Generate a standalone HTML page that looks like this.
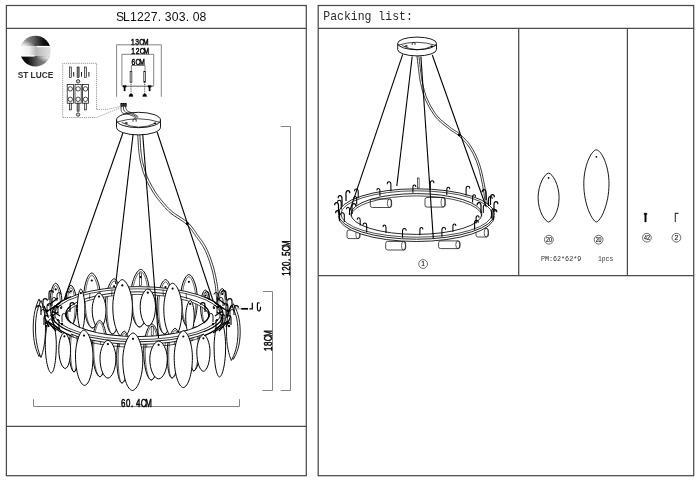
<!DOCTYPE html>
<html lang="en"><head><meta charset="utf-8"><title>SL1227.303.08</title>
<style>
html,body{margin:0;padding:0;background:#fff;}
body{width:700px;height:481px;overflow:hidden;}
svg{display:block;will-change:transform;filter:grayscale(1);}
</style></head><body>
<svg width="700" height="481" viewBox="0 0 700 481">
<rect x="0" y="0" width="700" height="481" fill="#fff"/>
<g>
<rect x="6.4" y="5.5" width="299.9" height="470.2" stroke="#4a4a4a" stroke-width="1.25" fill="none" />
<line x1="6.4" y1="28.4" x2="306.3" y2="28.4" stroke="#4a4a4a" stroke-width="1.25" />
<line x1="6.4" y1="426.4" x2="306.3" y2="426.4" stroke="#4a4a4a" stroke-width="1.25" />
<rect x="318.2" y="5.5" width="375.5" height="470.2" stroke="#4a4a4a" stroke-width="1.25" fill="none" />
<line x1="318.2" y1="28.4" x2="693.7" y2="28.4" stroke="#4a4a4a" stroke-width="1.25" />
<line x1="318.2" y1="275.5" x2="693.7" y2="275.5" stroke="#4a4a4a" stroke-width="1.25" />
<line x1="518.7" y1="28.4" x2="518.7" y2="275.5" stroke="#4a4a4a" stroke-width="1.25" />
<line x1="627.4" y1="28.4" x2="627.4" y2="275.5" stroke="#4a4a4a" stroke-width="1.25" />
<g transform="scale(0.94,1)"><text x="123.40 130.82 138.23 145.65 153.06 160.48 167.89 175.31 182.72 190.14 197.55 204.97 212.38" y="21.5" font-family="&quot;Liberation Sans&quot;, sans-serif" font-size="13" fill="#111" id="ttl">SL1227.303.08</text></g>
<text x="323.3" y="20.0" font-family="&quot;Liberation Mono&quot;, monospace" font-size="13.4" font-weight="normal" text-anchor="start" fill="#2a2a2a" textLength="89.5" lengthAdjust="spacingAndGlyphs" id="pk">Packing list:</text>
<defs>
<linearGradient id="g1" x1="0" x2="1" y1="0" y2="0"><stop offset="0" stop-color="#a0a0a0"/><stop offset="0.4" stop-color="#6a6a6a"/><stop offset="0.75" stop-color="#111"/><stop offset="1" stop-color="#000"/></linearGradient>
<linearGradient id="g2" x1="0" x2="1" y1="0" y2="0"><stop offset="0" stop-color="#000"/><stop offset="0.25" stop-color="#111"/><stop offset="0.6" stop-color="#6a6a6a"/><stop offset="1" stop-color="#a0a0a0"/></linearGradient>
<linearGradient id="g3" x1="0" x2="1" y1="0" y2="0"><stop offset="0" stop-color="#fff"/><stop offset="0.3" stop-color="#eee"/><stop offset="0.52" stop-color="#b9b9b9"/><stop offset="1" stop-color="#e2e2e2"/></linearGradient>
<radialGradient id="gw" cx="0.5" cy="0.5" r="0.5"><stop offset="0" stop-color="#fff" stop-opacity="1"/><stop offset="0.45" stop-color="#fff" stop-opacity="0.75"/><stop offset="1" stop-color="#fff" stop-opacity="0"/></radialGradient>
<clipPath id="lc"><circle cx="35.4" cy="51.1" r="15.3"/></clipPath>
<clipPath id="lca"><rect x="19" y="35" width="33" height="11.1"/></clipPath>
<clipPath id="lcb"><rect x="19" y="56.2" width="33" height="11.5"/></clipPath>
</defs>
<g clip-path="url(#lc)">
<rect x="20" y="35" width="31" height="11.2" fill="url(#g1)"/>
<rect x="20" y="46.2" width="31" height="9.8" fill="url(#g3)"/>
<rect x="20" y="56" width="31" height="11.5" fill="url(#g2)"/>
<g clip-path="url(#lca)"><ellipse cx="21" cy="48.5" rx="15" ry="9" fill="url(#gw)"/></g>
<g clip-path="url(#lcb)"><ellipse cx="50" cy="53.8" rx="15" ry="9" fill="url(#gw)"/></g>
<rect x="36.9" y="45.9" width="15" height="1.3" fill="#fff"/>
<rect x="19" y="55.3" width="15.6" height="1.3" fill="#fff"/>
</g>
<text x="17.7" y="78.2" font-family="&quot;Liberation Sans&quot;, sans-serif" font-size="8.6" font-weight="bold" text-anchor="start" fill="#2e2e2e" textLength="35.5" lengthAdjust="spacingAndGlyphs" >ST LUCE</text>
<g transform="translate(130.9,44.5) scale(0.76,1)"><text x="0.00 5.72 10.99 16.03" y="0" font-family="&quot;Liberation Sans&quot;, sans-serif" font-size="8.8" fill="#111" stroke="#000" stroke-width="0.5">13CM</text></g>
<path d="M116.6,96.8 V44.8 H161.3 V96.8" stroke="#505050" stroke-width="0.7" fill="none" />
<g transform="translate(131.3,54.0) scale(0.76,1)"><text x="0.00 5.72 10.99 16.03" y="0" font-family="&quot;Liberation Sans&quot;, sans-serif" font-size="8.8" fill="#111" stroke="#000" stroke-width="0.5">12CM</text></g>
<path d="M121.9,85.9 V54.3 H153.7 V85.9" stroke="#505050" stroke-width="0.7" fill="none" />
<g transform="translate(131.5,65.0) scale(0.76,1)"><text x="0.00 5.27 10.30" y="0" font-family="&quot;Liberation Sans&quot;, sans-serif" font-size="8.8" fill="#111" stroke="#000" stroke-width="0.5">6CM</text></g>
<path d="M131.4,71.3 V65.5 H145 V71.3" stroke="#505050" stroke-width="0.7" fill="none" />
<rect x="130.1" y="71.3" width="1.8" height="10.9" stroke="#000" stroke-width="0.6" fill="#ddd" />
<line x1="131.0" y1="82.2" x2="131.0" y2="94" stroke="#000" stroke-width="0.7" stroke-dasharray="1 0.8"/>
<path d="M129.0,96.6 Q129.0,93.8 131.0,93.8 Q133.0,93.8 133.0,96.6Z" stroke="#000" stroke-width="0.3" fill="#000" />
<rect x="143.79999999999998" y="71.3" width="1.8" height="10.9" stroke="#000" stroke-width="0.6" fill="#ddd" />
<line x1="144.7" y1="82.2" x2="144.7" y2="94" stroke="#000" stroke-width="0.7" stroke-dasharray="1 0.8"/>
<path d="M142.7,96.6 Q142.7,93.8 144.7,93.8 Q146.7,93.8 146.7,96.6Z" stroke="#000" stroke-width="0.3" fill="#000" />
<line x1="121.9" y1="86.2" x2="153.7" y2="86.2" stroke="#505050" stroke-width="0.9" />
<path d="M123.0,85.4 H126.19999999999999 V87.2 H125.3 V91 H123.89999999999999 V87.2 H123.0Z" stroke="#000" stroke-width="0.3" fill="#000" />
<path d="M148.0,85.4 H151.2 V87.2 H150.29999999999998 V91 H148.9 V87.2 H148.0Z" stroke="#000" stroke-width="0.3" fill="#000" />
<path d="M96.6,109.4 V63.3 H62.7 V117.6 H96.6" stroke="#666" stroke-width="0.7" fill="none" stroke-dasharray="1.2 0.9"/>
<path d="M96.6,109.4 H108 L120.5,106.4" stroke="#666" stroke-width="0.6" fill="none" stroke-dasharray="1.2 0.9"/>
<path d="M96.6,117.6 L120.5,107.6" stroke="#666" stroke-width="0.6" fill="none" stroke-dasharray="1.2 0.9"/>
<rect x="69.3" y="67" width="2" height="10.3" stroke="#000" stroke-width="0.6" fill="#ddd" />
<line x1="73.7" y1="72" x2="73.7" y2="76.6" stroke="#000" stroke-width="0.9" />
<rect x="67.2" y="84.4" width="6.2" height="18.8" stroke="#000" stroke-width="0.7" fill="none" />
<circle cx="70.3" cy="88.9" r="2.2" stroke="#000" stroke-width="0.7" fill="none"/>
<circle cx="70.3" cy="99.3" r="2.2" stroke="#000" stroke-width="0.7" fill="none"/>
<rect x="69.3" y="103.2" width="2" height="6.7" stroke="#000" stroke-width="0.6" fill="#ddd" />
<rect x="77.1" y="67" width="2" height="10.3" stroke="#000" stroke-width="0.6" fill="#888" />
<line x1="81.5" y1="72" x2="81.5" y2="76.6" stroke="#000" stroke-width="0.9" />
<rect x="75.0" y="84.4" width="6.2" height="18.8" stroke="#000" stroke-width="0.7" fill="none" />
<circle cx="78.1" cy="88.9" r="2.2" stroke="#000" stroke-width="0.7" fill="none"/>
<circle cx="78.1" cy="99.3" r="2.2" stroke="#000" stroke-width="0.7" fill="none"/>
<rect x="77.1" y="103.2" width="2" height="8" stroke="#000" stroke-width="0.6" fill="#999" />
<rect x="84.5" y="67" width="2" height="10.3" stroke="#000" stroke-width="0.6" fill="#ddd" />
<line x1="88.9" y1="72" x2="88.9" y2="76.6" stroke="#000" stroke-width="0.9" />
<rect x="82.4" y="84.4" width="6.2" height="18.8" stroke="#000" stroke-width="0.7" fill="none" />
<circle cx="85.5" cy="88.9" r="2.2" stroke="#000" stroke-width="0.7" fill="none"/>
<circle cx="85.5" cy="99.3" r="2.2" stroke="#000" stroke-width="0.7" fill="none"/>
<rect x="84.5" y="103.2" width="2" height="6.7" stroke="#000" stroke-width="0.6" fill="#ddd" />
<circle cx="78.1" cy="81.3" r="1.7" stroke="#000" stroke-width="0.7" fill="#ccc"/>
<circle cx="78.1" cy="114.6" r="1.7" stroke="#000" stroke-width="0.7" fill="#ccc"/>
<path d="M137.7,133.1 L137.7,133.9 L137.8,135.0 L137.8,136.2 L137.9,137.6 L138.0,139.1 L138.1,140.7 L138.2,142.4 L138.3,144.1 L138.4,145.7 L138.5,147.3 L138.6,148.8 L138.8,150.1 L138.9,151.3 L139.0,152.5 L139.1,153.6 L139.3,154.7 L139.4,155.8 L139.6,156.8 L139.7,157.9 L139.9,158.9 L140.1,160.0 L140.3,161.0 L140.5,162.1 L140.8,163.2 L141.1,164.4 L141.3,165.5 L141.6,166.7 L142.0,167.9 L142.3,169.0 L142.6,170.2 L143.0,171.4 L143.4,172.6 L143.8,173.8 L144.3,175.0 L144.7,176.2 L145.2,177.4 L145.8,178.6 L146.3,179.9 L146.9,181.2 L147.6,182.4 L148.2,183.7 L148.9,185.0 L149.6,186.3 L150.3,187.5 L151.0,188.7 L151.7,189.9 L152.3,191.1 L153.0,192.2 L153.7,193.2 L154.3,194.2 L155.0,195.2 L155.7,196.2 L156.3,197.1 L157.0,198.0 L157.7,198.9 L158.4,199.7 L159.1,200.6 L159.8,201.5 L160.5,202.3 L161.2,203.2 L161.9,204.0 L162.6,204.9 L163.3,205.7 L164.0,206.5 L164.7,207.3 L165.5,208.1 L166.2,208.9 L167.1,209.8 L167.9,210.6 L168.8,211.5 L169.8,212.3 L170.8,213.2 L172.0,214.1 L173.3,215.1 L174.6,216.0 L176.0,216.9 L177.5,217.9 L179.0,218.8 L180.5,219.8 L181.9,220.8 L183.3,221.7 L184.6,222.7 L185.8,223.6 L186.9,224.6 L187.9,225.5 L188.8,226.5 L189.6,227.5 L190.4,228.4 L191.2,229.4 L191.9,230.4 L192.6,231.4 L193.3,232.5 L194.0,233.5 L194.7,234.5 L195.4,235.6 L196.1,236.6 L196.9,237.6 L197.6,238.6 L198.3,239.6 L199.1,240.6 L199.8,241.5 L200.5,242.5 L201.1,243.5 L201.8,244.5 L202.5,245.6 L203.1,246.6 L203.7,247.8 L204.4,249.0 L205.0,250.2 L205.6,251.5 L206.2,252.9 L206.8,254.3 L207.4,255.7 L207.9,257.2 L208.5,258.7 L209.0,260.2 L209.5,261.7 L210.0,263.3 L210.5,264.8 L211.0,266.3 L211.4,267.8 L211.9,269.4 L212.3,270.9 L212.7,272.5 L213.0,274.0 L213.4,275.6 L213.7,277.2 L214.0,278.8 L214.3,280.4 L214.6,282.0 L214.9,283.6 L215.2,285.2 L215.4,286.8 L215.6,288.5 L215.8,290.3 L216.0,292.1 L216.2,294.0 L216.3,295.8 L216.5,297.5 L216.6,299.2 L216.7,300.7 L216.8,302.0 L216.9,303.2 L217.0,304.1" stroke="#000" stroke-width="0.8" fill="none" stroke-linejoin="round"/>
<path d="M139.7,132.9 L139.8,133.8 L139.9,134.8 L139.9,136.1 L140.0,137.5 L140.1,139.0 L140.2,140.6 L140.3,142.3 L140.4,143.9 L140.5,145.6 L140.6,147.1 L140.7,148.6 L140.8,149.9 L141.0,151.1 L141.1,152.3 L141.2,153.4 L141.4,154.5 L141.5,155.5 L141.6,156.5 L141.8,157.5 L142.0,158.6 L142.1,159.6 L142.3,160.6 L142.6,161.7 L142.8,162.8 L143.1,163.9 L143.4,165.0 L143.7,166.1 L144.0,167.3 L144.3,168.4 L144.6,169.6 L145.0,170.8 L145.4,171.9 L145.8,173.1 L146.2,174.2 L146.7,175.4 L147.2,176.6 L147.7,177.8 L148.2,179.0 L148.8,180.2 L149.4,181.5 L150.1,182.7 L150.7,184.0 L151.4,185.2 L152.1,186.5 L152.8,187.7 L153.5,188.8 L154.1,190.0 L154.8,191.0 L155.4,192.1 L156.1,193.1 L156.7,194.0 L157.4,194.9 L158.0,195.8 L158.7,196.7 L159.3,197.6 L160.0,198.4 L160.7,199.3 L161.4,200.1 L162.1,201.0 L162.8,201.8 L163.5,202.7 L164.2,203.5 L164.9,204.3 L165.6,205.1 L166.3,205.9 L167.0,206.7 L167.8,207.5 L168.5,208.3 L169.4,209.1 L170.2,209.9 L171.2,210.7 L172.2,211.6 L173.3,212.5 L174.5,213.3 L175.8,214.3 L177.2,215.2 L178.7,216.1 L180.1,217.1 L181.6,218.0 L183.1,219.0 L184.5,220.0 L185.9,221.0 L187.1,222.0 L188.3,223.0 L189.4,224.0 L190.3,225.1 L191.2,226.1 L192.1,227.1 L192.9,228.2 L193.6,229.2 L194.4,230.3 L195.1,231.3 L195.8,232.3 L196.4,233.4 L197.1,234.4 L197.9,235.4 L198.6,236.4 L199.3,237.4 L200.0,238.4 L200.8,239.3 L201.5,240.3 L202.2,241.3 L202.9,242.3 L203.6,243.4 L204.3,244.5 L204.9,245.6 L205.6,246.8 L206.2,248.0 L206.9,249.3 L207.5,250.7 L208.1,252.1 L208.7,253.5 L209.3,255.0 L209.9,256.5 L210.5,258.0 L211.0,259.5 L211.5,261.1 L212.0,262.6 L212.5,264.2 L213.0,265.7 L213.5,267.2 L213.9,268.8 L214.3,270.4 L214.7,272.0 L215.1,273.6 L215.4,275.2 L215.8,276.8 L216.1,278.4 L216.4,280.0 L216.7,281.6 L217.0,283.2 L217.2,284.8 L217.5,286.5 L217.7,288.3 L217.9,290.1 L218.1,291.9 L218.3,293.8 L218.4,295.6 L218.5,297.3 L218.7,299.0 L218.8,300.5 L218.9,301.9 L219.0,303.0 L219.0,303.9" stroke="#000" stroke-width="0.8" fill="none" stroke-linejoin="round"/>
<circle cx="187.4" cy="223.6" r="1.5" fill="#000"/>
<path d="M116.5,120 V127.2 A22,7.7 0 0 0 160.5,127.2 V120" stroke="#000" stroke-width="0.9" fill="#fff" />
<ellipse cx="138.5" cy="120" rx="22" ry="7.7" stroke="#000" stroke-width="0.9" fill="#fff" />
<path d="M117.3,121.9 Q138.5,115.4 159.9,122.3" stroke="#000" stroke-width="0.7" fill="none" />
<path d="M121.7,122.4 Q138.5,131.6 156.0,123.0" stroke="#000" stroke-width="0.7" fill="none" />
<ellipse cx="126.3" cy="123.0" rx="1.6" ry="0.8" fill="#000"/>
<ellipse cx="155.0" cy="123.2" rx="1.5" ry="0.8" fill="#000"/>
<path d="M133.0,121.8 v-2.2 q1.6,-1.6 3.2,0 v2.2" stroke="#000" stroke-width="0.7" fill="none" />
<rect x="120.8" y="103.4" width="1.6" height="3.2" stroke="#000" stroke-width="0.5" fill="#333" />
<rect x="122.8" y="103.4" width="1.6" height="3.2" stroke="#000" stroke-width="0.5" fill="#333" />
<rect x="124.8" y="103.4" width="1.6" height="3.2" stroke="#000" stroke-width="0.5" fill="#333" />
<path d="M121.2,106.6 C120.6,111 121.5,113.2 125,113.8 C129,114.2 133,115.5 136.5,118.3" stroke="#000" stroke-width="0.7" fill="none" />
<path d="M123.4,106.6 C123.2,110.5 124.5,112.3 127.5,112.9 C131,113.5 134.5,115 137.5,117.6" stroke="#000" stroke-width="0.7" fill="none" />
<path d="M125.6,106.6 C125.8,109.8 127.2,111.4 130,112.2 C133,113 136,114.8 138.4,117" stroke="#000" stroke-width="0.7" fill="none" />
<path d="M55.6,283.2 C58.3,283.5 62.0,292.4 62.0,302.8 C62.0,315.4 59.5,324.7 56.5,325.0 C53.5,324.7 50.0,315.4 50.0,302.8 C50.0,292.4 52.9,283.5 55.6,283.2Z" stroke="#000" stroke-width="1.0" fill="#fff" />
<path d="M55.6,285.4 C57.6,285.7 60.4,294.1 60.4,304.0 C60.4,315.9 58.7,324.7 56.5,325.0 C54.3,324.7 51.6,315.9 51.6,304.0 C51.6,294.1 53.6,285.7 55.6,285.4Z" stroke="#000" stroke-width="0.6" fill="none" />
<circle cx="55.7" cy="289.4" r="1.1" fill="#000"/>
<path d="M70.9,285.4 C73.4,285.7 76.7,294.1 76.7,304.0 C76.7,315.9 74.2,324.7 71.5,325.0 C68.8,324.7 65.7,315.9 65.7,304.0 C65.7,294.1 68.4,285.7 70.9,285.4Z" stroke="#000" stroke-width="1.0" fill="#fff" />
<path d="M70.9,287.6 C72.7,287.9 75.1,295.8 75.1,305.2 C75.1,316.4 73.5,324.7 71.5,325.0 C69.5,324.7 67.3,316.4 67.3,305.2 C67.3,295.8 69.1,287.9 70.9,287.6Z" stroke="#000" stroke-width="0.6" fill="none" />
<circle cx="70.9" cy="291.3" r="1.1" fill="#000"/>
<path d="M91.7,273.0 C95.5,273.4 100.6,285.1 100.6,298.9 C100.6,315.4 96.8,327.6 92.5,328.0 C88.2,327.6 83.6,315.4 83.6,298.9 C83.6,285.1 87.9,273.4 91.7,273.0Z" stroke="#000" stroke-width="1.0" fill="#fff" />
<path d="M91.7,275.2 C94.8,275.6 99.0,286.8 99.0,300.0 C99.0,315.9 96.0,327.6 92.5,328.0 C89.0,327.6 85.2,315.9 85.2,300.0 C85.2,286.8 88.6,275.6 91.7,275.2Z" stroke="#000" stroke-width="0.6" fill="none" />
<circle cx="91.8" cy="280.5" r="1.1" fill="#000"/>
<path d="M114.2,278.8 C117.8,279.2 121.4,290.9 121.4,304.7 C121.4,321.3 116.5,333.6 112.5,334.0 C108.5,333.6 105.4,321.3 105.4,304.7 C105.4,290.9 110.6,279.2 114.2,278.8Z" stroke="#000" stroke-width="1.0" fill="#fff" />
<path d="M114.2,281.0 C117.1,281.4 119.8,292.7 119.8,305.9 C119.8,321.8 115.7,333.6 112.5,334.0 C109.3,333.6 107.0,321.8 107.0,305.9 C107.0,292.7 111.3,281.4 114.2,281.0Z" stroke="#000" stroke-width="0.6" fill="none" />
<circle cx="114.1" cy="286.3" r="1.1" fill="#000"/>
<path d="M140.8,269.4 C145.1,269.9 149.7,282.1 149.7,296.5 C149.7,313.8 144.2,326.5 139.5,327.0 C134.8,326.5 130.7,313.8 130.7,296.5 C130.7,282.1 136.5,269.9 140.8,269.4Z" stroke="#000" stroke-width="1.0" fill="#fff" />
<path d="M140.8,271.6 C144.4,272.0 148.1,283.8 148.1,297.6 C148.1,314.3 143.4,326.6 139.5,327.0 C135.6,326.6 132.3,314.3 132.3,297.6 C132.3,283.8 137.2,272.0 140.8,271.6Z" stroke="#000" stroke-width="0.6" fill="none" />
<circle cx="140.7" cy="277.1" r="1.1" fill="#000"/>
<path d="M165.6,279.6 C169.2,280.0 173.1,291.6 173.1,305.2 C173.1,321.5 168.5,333.6 164.5,334.0 C160.5,333.6 157.1,321.5 157.1,305.2 C157.1,291.6 162.0,280.0 165.6,279.6Z" stroke="#000" stroke-width="1.0" fill="#fff" />
<path d="M165.6,281.8 C168.5,282.2 171.5,293.3 171.5,306.3 C171.5,322.0 167.7,333.6 164.5,334.0 C161.3,333.6 158.7,322.0 158.7,306.3 C158.7,293.3 162.7,282.2 165.6,281.8Z" stroke="#000" stroke-width="0.6" fill="none" />
<circle cx="165.5" cy="287.0" r="1.1" fill="#000"/>
<path d="M188.9,274.5 C192.7,274.9 197.4,286.3 197.4,299.6 C197.4,315.7 193.2,327.6 189.0,328.0 C184.8,327.6 180.4,315.7 180.4,299.6 C180.4,286.3 185.1,274.9 188.9,274.5Z" stroke="#000" stroke-width="1.0" fill="#fff" />
<path d="M188.9,276.7 C192.0,277.1 195.8,288.0 195.8,300.8 C195.8,316.2 192.4,327.6 189.0,328.0 C185.6,327.6 182.0,316.2 182.0,300.8 C182.0,288.0 185.8,277.1 188.9,276.7Z" stroke="#000" stroke-width="0.6" fill="none" />
<circle cx="188.9" cy="281.8" r="1.1" fill="#000"/>
<path d="M205.3,290.0 C207.6,290.3 210.6,297.7 210.6,306.4 C210.6,316.9 208.5,324.7 206.0,325.0 C203.5,324.7 200.6,316.9 200.6,306.4 C200.6,297.7 203.1,290.3 205.3,290.0Z" stroke="#000" stroke-width="1.0" fill="#fff" />
<path d="M205.3,292.2 C206.8,292.5 209.0,299.4 209.0,307.6 C209.0,317.5 207.7,324.7 206.0,325.0 C204.3,324.7 202.2,317.5 202.2,307.6 C202.2,299.4 203.8,292.5 205.3,292.2Z" stroke="#000" stroke-width="0.6" fill="none" />
<circle cx="205.4" cy="295.5" r="1.1" fill="#000"/>
<path d="M222.2,288.5 C224.4,288.8 227.1,296.5 227.1,305.7 C227.1,316.6 224.5,324.7 222.0,325.0 C219.5,324.7 217.1,316.6 217.1,305.7 C217.1,296.5 219.9,288.8 222.2,288.5Z" stroke="#000" stroke-width="1.0" fill="#fff" />
<path d="M222.2,290.7 C223.7,291.0 225.5,298.2 225.5,306.8 C225.5,317.1 223.7,324.7 222.0,325.0 C220.3,324.7 218.7,317.1 218.7,306.8 C218.7,298.2 220.7,291.0 222.2,290.7Z" stroke="#000" stroke-width="0.6" fill="none" />
<circle cx="222.2" cy="294.1" r="1.1" fill="#000"/>
<rect x="139.4" y="273" width="2.1" height="12.4" stroke="#000" stroke-width="0.6" fill="none" />
<path d="M52.0,314.2 A85.5,27.6 0 1 0 223.0,314.2 A85.5,27.6 0 1 0 52.0,314.2Z M65.7,316.8 A71.8,22.4 0 1 0 209.3,316.8 A71.8,22.4 0 1 0 65.7,316.8Z" stroke="#000" stroke-width="0" fill="#fff" fill-rule="evenodd"/>
<ellipse cx="137.5" cy="314.2" rx="85.5" ry="27.6" stroke="#000" stroke-width="0.85" fill="none" />
<ellipse cx="137.5" cy="314.2" rx="82.7" ry="25.4" stroke="#000" stroke-width="0.7" fill="none" />
<ellipse cx="137.5" cy="314.2" rx="71.8" ry="22.4" stroke="#000" stroke-width="0.85" fill="none" />
<path d="M65.7,316.8 A71.8,22.4 0 0 1 209.3,316.8" stroke="#000" stroke-width="0.7" fill="none" />
<line x1="90" y1="292.8511680277865" x2="89.33333333333333" y2="299.2511680277865" stroke="#000" stroke-width="0.6" />
<line x1="100" y1="290.99631874341804" x2="99.47368421052632" y2="297.396318743418" stroke="#000" stroke-width="0.6" />
<line x1="112" y1="289.4560992251861" x2="111.6421052631579" y2="295.8560992251861" stroke="#000" stroke-width="0.6" />
<line x1="126" y1="288.4507957704181" x2="125.83859649122807" y2="294.8507957704181" stroke="#000" stroke-width="0.6" />
<line x1="150" y1="288.4965557649302" x2="150.17543859649123" y2="294.89655576493016" stroke="#000" stroke-width="0.6" />
<line x1="163" y1="289.4560992251861" x2="163.3578947368421" y2="295.8560992251861" stroke="#000" stroke-width="0.6" />
<line x1="176" y1="291.15648012733624" x2="176.540350877193" y2="297.5564801273362" stroke="#000" stroke-width="0.6" />
<line x1="186" y1="293.0701678555772" x2="186.68070175438598" y2="299.4701678555772" stroke="#000" stroke-width="0.6" />
<line x1="133.1" y1="134" x2="115.7" y2="284" stroke="#000" stroke-width="1.1" />
<line x1="157.1" y1="132" x2="213.5" y2="302" stroke="#000" stroke-width="1.1" />
<path d="M80.8,289.0 C82.5,289.3 84.9,298.0 84.9,308.3 C84.9,320.6 83.4,329.7 81.5,330.0 C79.6,329.7 77.4,320.6 77.4,308.3 C77.4,298.0 79.1,289.3 80.8,289.0Z" stroke="#000" stroke-width="1.0" fill="#fff" />
<circle cx="80.9" cy="293.1" r="1.1" fill="#000"/>
<path d="M190.3,300.5 C192.2,300.8 194.2,307.9 194.2,316.2 C194.2,326.3 191.7,333.7 189.6,334.0 C187.5,333.7 185.7,326.3 185.7,316.2 C185.7,307.9 188.4,300.8 190.3,300.5Z" stroke="#000" stroke-width="1.0" fill="#fff" />
<circle cx="190.2" cy="303.9" r="1.1" fill="#000"/>
<path d="M99.0,293.0 C102.1,293.3 106.0,300.8 106.0,309.7 C106.0,320.3 102.8,328.2 99.3,328.5 C95.8,328.2 92.2,320.3 92.2,309.7 C92.2,300.8 95.9,293.3 99.0,293.0Z" stroke="#000" stroke-width="1.0" fill="#fff" />
<circle cx="99.0" cy="296.6" r="1.1" fill="#000"/>
<path d="M147.8,289.0 C151.2,289.3 155.5,297.1 155.5,306.4 C155.5,317.5 151.8,325.7 148.0,326.0 C144.2,325.7 140.2,317.5 140.2,306.4 C140.2,297.1 144.4,289.3 147.8,289.0Z" stroke="#000" stroke-width="1.0" fill="#fff" />
<circle cx="147.8" cy="292.7" r="1.1" fill="#000"/>
<path d="M122.2,279.6 C126.6,280.1 132.4,292.4 132.4,306.9 C132.4,324.3 127.9,337.1 123.0,337.6 C118.1,337.1 112.8,324.3 112.8,306.9 C112.8,292.4 117.8,280.1 122.2,279.6Z" stroke="#000" stroke-width="1.0" fill="#fff" />
<circle cx="122.3" cy="285.4" r="1.1" fill="#000"/>
<path d="M172.6,283.2 C176.7,283.6 182.0,295.2 182.0,308.8 C182.0,325.1 177.8,337.2 173.2,337.6 C168.6,337.2 163.8,325.1 163.8,308.8 C163.8,295.2 168.5,283.6 172.6,283.2Z" stroke="#000" stroke-width="1.0" fill="#fff" />
<circle cx="172.6" cy="288.6" r="1.1" fill="#000"/>
<path d="M74.0,327.0 C76.2,327.4 79.0,336.9 79.0,348.1 C79.0,361.6 76.5,371.6 74.0,372.0 C71.5,371.6 69.0,361.6 69.0,348.1 C69.0,336.9 71.8,327.4 74.0,327.0Z" stroke="#000" stroke-width="1.0" fill="#fff" />
<path d="M74.0,329.0 C75.6,329.3 77.5,338.5 77.5,349.2 C77.5,362.1 75.8,371.7 74.0,372.0 C72.2,371.7 70.5,362.1 70.5,349.2 C70.5,338.5 72.4,329.3 74.0,329.0Z" stroke="#000" stroke-width="0.6" fill="none" />
<path d="M99.6,320.3 C103.0,320.8 107.2,332.7 107.2,346.8 C107.2,363.7 103.7,376.2 99.9,376.7 C96.2,376.2 92.2,363.7 92.2,346.8 C92.2,332.7 96.2,320.8 99.6,320.3Z" stroke="#000" stroke-width="1.0" fill="#fff" />
<path d="M99.6,322.3 C102.3,322.7 105.7,334.3 105.7,347.9 C105.7,364.2 102.9,376.3 99.9,376.7 C96.9,376.3 93.7,364.2 93.7,347.9 C93.7,334.3 96.9,322.7 99.6,322.3Z" stroke="#000" stroke-width="0.6" fill="none" />
<path d="M124.3,331.2 C127.2,331.6 129.7,342.6 129.7,355.5 C129.7,371.1 125.2,382.6 122.0,383.0 C118.8,382.6 116.7,371.1 116.7,355.5 C116.7,342.6 121.4,331.6 124.3,331.2Z" stroke="#000" stroke-width="1.0" fill="#fff" />
<path d="M124.3,333.2 C126.5,333.6 128.2,344.2 128.2,356.6 C128.2,371.5 124.5,382.6 122.0,383.0 C119.5,382.6 118.2,371.5 118.2,356.6 C118.2,344.2 122.0,333.6 124.3,333.2Z" stroke="#000" stroke-width="0.6" fill="none" />
<path d="M152.0,324.0 C155.6,324.4 159.7,336.3 159.7,350.3 C159.7,367.1 155.3,379.6 151.3,380.0 C147.3,379.6 143.7,367.1 143.7,350.3 C143.7,336.3 148.4,324.4 152.0,324.0Z" stroke="#000" stroke-width="1.0" fill="#fff" />
<path d="M152.0,326.0 C154.9,326.4 158.2,337.9 158.2,351.4 C158.2,367.6 154.6,379.6 151.3,380.0 C148.1,379.6 145.2,367.6 145.2,351.4 C145.2,337.9 149.1,326.4 152.0,326.0Z" stroke="#000" stroke-width="0.6" fill="none" />
<path d="M175.2,328.3 C178.1,328.7 180.2,339.2 180.2,351.7 C180.2,366.6 175.2,377.6 172.0,378.0 C168.8,377.6 167.2,366.6 167.2,351.7 C167.2,339.2 172.3,328.7 175.2,328.3Z" stroke="#000" stroke-width="1.0" fill="#fff" />
<path d="M175.2,330.3 C177.4,330.7 178.7,340.8 178.7,352.7 C178.7,367.0 174.5,377.6 172.0,378.0 C169.5,377.6 168.7,367.0 168.7,352.7 C168.7,340.8 172.9,330.7 175.2,330.3Z" stroke="#000" stroke-width="0.6" fill="none" />
<path d="M195.0,327.0 C197.5,327.4 199.9,336.7 199.9,347.7 C199.9,360.9 196.6,370.6 193.8,371.0 C191.1,370.6 188.9,360.9 188.9,347.7 C188.9,336.7 192.5,327.4 195.0,327.0Z" stroke="#000" stroke-width="1.0" fill="#fff" />
<path d="M195.0,329.0 C196.8,329.3 198.4,338.2 198.4,348.7 C198.4,361.3 195.8,370.7 193.8,371.0 C191.8,370.7 190.4,361.3 190.4,348.7 C190.4,338.2 193.2,329.3 195.0,329.0Z" stroke="#000" stroke-width="0.6" fill="none" />
<rect x="151.2" y="326.5" width="2" height="9" stroke="#000" stroke-width="0.6" fill="none" />
<path d="M52.0,314.2 A85.5,27.6 0 0 0 223.0,314.2 L209.3,314.2 A71.8,22.4 0 0 1 65.7,314.2Z" stroke="#000" stroke-width="0" fill="#fff" />
<path d="M52.0,314.2 A85.5,27.6 0 0 0 223.0,314.2 v2.6 A85.5,27.6 0 0 1 52.0,316.8Z" stroke="#000" stroke-width="0" fill="#fff" />
<path d="M52.0,314.2 A85.5,27.6 0 0 0 223.0,314.2" stroke="#000" stroke-width="0.85" fill="none" />
<path d="M52.0,316.8 A85.5,27.6 0 0 0 223.0,316.8" stroke="#000" stroke-width="0.85" fill="none" />
<path d="M54.8,314.2 A82.7,25.4 0 0 0 220.2,314.2" stroke="#000" stroke-width="0.7" fill="none" />
<path d="M65.7,314.2 A71.8,22.4 0 0 0 209.3,314.2" stroke="#000" stroke-width="0.85" fill="none" />
<line x1="63.099999999999994" y1="330.3996799701632" x2="64.40526315789474" y2="333.7996799701632" stroke="#000" stroke-width="0.6" />
<line x1="72.39999999999999" y1="334.6924798576682" x2="73.5421052631579" y2="338.0924798576682" stroke="#000" stroke-width="0.6" />
<line x1="81.69999999999999" y1="337.7118412293396" x2="82.67894736842103" y2="341.1118412293396" stroke="#000" stroke-width="0.6" />
<line x1="91.0" y1="339.9612629129543" x2="91.8157894736842" y2="343.36126291295426" stroke="#000" stroke-width="0.6" />
<line x1="100.3" y1="341.65071073073597" x2="100.95263157894736" y2="345.05071073073594" stroke="#000" stroke-width="0.6" />
<line x1="109.6" y1="342.8891984526217" x2="110.08947368421052" y2="346.2891984526217" stroke="#000" stroke-width="0.6" />
<line x1="118.9" y1="343.73899508065733" x2="119.22631578947369" y2="347.1389950806573" stroke="#000" stroke-width="0.6" />
<line x1="128.2" y1="344.23624179782865" x2="128.36315789473684" y2="347.63624179782863" stroke="#000" stroke-width="0.6" />
<line x1="137.5" y1="344.40000000000003" x2="137.5" y2="347.8" stroke="#000" stroke-width="0.6" />
<line x1="146.8" y1="344.23624179782865" x2="146.63684210526316" y2="347.63624179782863" stroke="#000" stroke-width="0.6" />
<line x1="156.1" y1="343.73899508065733" x2="155.7736842105263" y2="347.1389950806573" stroke="#000" stroke-width="0.6" />
<line x1="165.4" y1="342.8891984526217" x2="164.91052631578947" y2="346.2891984526217" stroke="#000" stroke-width="0.6" />
<line x1="174.7" y1="341.65071073073597" x2="174.04736842105262" y2="345.05071073073594" stroke="#000" stroke-width="0.6" />
<line x1="184.0" y1="339.9612629129543" x2="183.18421052631578" y2="343.36126291295426" stroke="#000" stroke-width="0.6" />
<line x1="193.3" y1="337.7118412293396" x2="192.32105263157897" y2="341.1118412293396" stroke="#000" stroke-width="0.6" />
<line x1="202.60000000000002" y1="334.6924798576682" x2="201.45789473684212" y2="338.0924798576682" stroke="#000" stroke-width="0.6" />
<line x1="211.9" y1="330.3996799701632" x2="210.59473684210528" y2="333.7996799701632" stroke="#000" stroke-width="0.6" />
<path d="M55.0,320.2 A82.5,27.1 0 0 0 220.0,320.2" stroke="#000" stroke-width="0.7" fill="none" />
<path d="M39,299 C36.1,305 33.2,314 33.2,328 C33.2,342 36.1,350.5 39,356.5 C41.25,350.5 43.5,342 43.5,328 C43.5,314 41.25,305 39,299Z" stroke="#000" stroke-width="0.9" fill="#fff" />
<path d="M41,300.5 C38.25,306.5 35.5,314 35.5,328 C35.5,342 38.25,351.5 41,357.5 C43.25,351.5 45.5,342 45.5,328 C45.5,314 43.25,306.5 41,300.5Z" stroke="#000" stroke-width="0.9" fill="#fff" />
<path d="M233.3,303.7 C236.75,309.7 240.2,317.8 240.2,331.8 C240.2,345.8 236.75,353.3 233.3,359.3 C230.9,353.3 228.5,345.8 228.5,331.8 C228.5,317.8 230.9,309.7 233.3,303.7Z" stroke="#000" stroke-width="0.9" fill="#fff" />
<path d="M231.3,305 C234.65,311 238,317.8 238,331.8 C238,345.8 234.65,354.5 231.3,360.5 C228.9,354.5 226.5,345.8 226.5,331.8 C226.5,317.8 228.9,311 231.3,305Z" stroke="#000" stroke-width="0.9" fill="#fff" />
<path d="M50.4,319.0 C52.9,319.4 56.3,330.9 56.3,344.4 C56.3,360.6 54.0,372.6 51.2,373.0 C48.5,372.6 45.3,360.6 45.3,344.4 C45.3,330.9 47.9,319.4 50.4,319.0Z" stroke="#000" stroke-width="1.0" fill="#fff" />
<circle cx="50.5" cy="324.4" r="1.1" fill="#000"/>
<path d="M220.2,320.0 C222.8,320.5 225.6,332.5 225.6,346.8 C225.6,363.9 222.4,376.5 219.5,377.0 C216.6,376.5 214.1,363.9 214.1,346.8 C214.1,332.5 217.6,320.5 220.2,320.0Z" stroke="#000" stroke-width="1.0" fill="#fff" />
<circle cx="220.1" cy="325.7" r="1.1" fill="#000"/>
<path d="M64.3,332.7 C67.0,333.0 70.6,340.6 70.6,349.5 C70.6,360.3 68.2,368.2 65.2,368.5 C62.2,368.2 58.8,360.3 58.8,349.5 C58.8,340.6 61.6,333.0 64.3,332.7Z" stroke="#000" stroke-width="1.0" fill="#fff" />
<circle cx="64.4" cy="336.3" r="1.1" fill="#000"/>
<path d="M203.4,334.6 C206.4,334.9 210.0,342.7 210.0,351.8 C210.0,362.9 206.7,371.0 203.4,371.3 C200.1,371.0 196.8,362.9 196.8,351.8 C196.8,342.7 200.4,334.9 203.4,334.6Z" stroke="#000" stroke-width="1.0" fill="#fff" />
<circle cx="203.4" cy="338.3" r="1.1" fill="#000"/>
<path d="M107.9,340.3 C111.5,340.6 115.9,348.6 115.9,358.1 C115.9,369.4 111.9,377.8 107.9,378.1 C103.9,377.8 100.0,369.4 100.0,358.1 C100.0,348.6 104.3,340.6 107.9,340.3Z" stroke="#000" stroke-width="1.0" fill="#fff" />
<circle cx="107.9" cy="344.1" r="1.1" fill="#000"/>
<path d="M158.6,341.0 C162.5,341.3 167.3,349.3 167.3,358.8 C167.3,370.2 163.0,378.6 158.6,378.9 C154.2,378.6 149.8,370.2 149.8,358.8 C149.8,349.3 154.7,341.3 158.6,341.0Z" stroke="#000" stroke-width="1.0" fill="#fff" />
<circle cx="158.6" cy="344.8" r="1.1" fill="#000"/>
<path d="M83.9,330.1 C87.8,330.5 93.0,342.3 93.0,356.1 C93.0,372.7 89.0,385.0 84.6,385.4 C80.2,385.0 75.5,372.7 75.5,356.1 C75.5,342.3 80.0,330.5 83.9,330.1Z" stroke="#000" stroke-width="1.0" fill="#fff" />
<circle cx="84.0" cy="335.6" r="1.1" fill="#000"/>
<path d="M183.3,330.8 C187.4,331.3 192.4,343.3 192.4,357.5 C192.4,374.5 187.9,387.1 183.3,387.6 C178.8,387.1 174.2,374.5 174.2,357.5 C174.2,343.3 179.2,331.3 183.3,330.8Z" stroke="#000" stroke-width="1.0" fill="#fff" />
<circle cx="183.3" cy="336.5" r="1.1" fill="#000"/>
<path d="M133.1,333.0 C137.6,333.5 142.8,345.6 142.8,360.0 C142.8,377.3 137.4,390.0 132.4,390.5 C127.4,390.0 122.8,377.3 122.8,360.0 C122.8,345.6 128.6,333.5 133.1,333.0Z" stroke="#000" stroke-width="1.0" fill="#fff" />
<circle cx="133.0" cy="338.8" r="1.1" fill="#000"/>
<line x1="122.9" y1="133" x2="64.4" y2="299" stroke="#000" stroke-width="1.1" />
<line x1="142.7" y1="134" x2="158.5" y2="338" stroke="#000" stroke-width="1.1" />
<defs><clipPath id="ends"><rect x="40" y="290" width="31" height="60"/><rect x="204" y="290" width="31" height="60"/></clipPath></defs>
<g clip-path="url(#ends)">
<path d="M52.0,314.2 A85.5,27.6 0 1 0 223.0,314.2 A85.5,27.6 0 1 0 52.0,314.2Z M65.7,314.2 A71.8,22.4 0 1 0 209.3,314.2 A71.8,22.4 0 1 0 65.7,314.2Z" stroke="#000" stroke-width="0" fill="#fff" fill-rule="evenodd"/>
<path d="M52.0,314.2 A85.5,27.6 0 0 0 223.0,314.2 v4.1 A85.5,27.6 0 0 1 52.0,318.3Z" stroke="#000" stroke-width="0" fill="#fff" />
<ellipse cx="137.5" cy="314.2" rx="85.5" ry="27.6" stroke="#000" stroke-width="1.2" fill="none" />
<ellipse cx="137.5" cy="314.2" rx="82.7" ry="25.4" stroke="#000" stroke-width="0.8" fill="none" />
<ellipse cx="137.5" cy="314.2" rx="71.8" ry="22.4" stroke="#000" stroke-width="1.2" fill="none" />
<path d="M52.0,318.3 A85.5,27.6 0 0 0 223.0,318.3" stroke="#000" stroke-width="1.2" fill="none" />
<path d="M65.7,316.8 A71.8,22.4 0 0 1 209.3,316.8" stroke="#000" stroke-width="0.8" fill="none" />
</g>
<path d="M47,312 v-6 q0,-2.5 2,-2.5 q2,0 2,2" stroke="#000" stroke-width="0.9" fill="none" />
<path d="M52,306 v-6 q0,-2.5 2,-2.5 q2,0 2,2" stroke="#000" stroke-width="0.9" fill="none" />
<path d="M57,301 v-6 q0,-2.5 2,-2.5 q2,0 2,2" stroke="#000" stroke-width="0.9" fill="none" />
<path d="M45,318 v-6 q0,-2.5 -2,-2.5 q-2,0 -2,2" stroke="#000" stroke-width="0.9" fill="none" />
<path d="M62,322 v-6 q0,-2.5 2,-2.5 q2,0 2,2" stroke="#000" stroke-width="0.9" fill="none" />
<path d="M66,300 v-6 q0,-2.5 2,-2.5 q2,0 2,2" stroke="#000" stroke-width="0.9" fill="none" />
<path d="M58,314 v-6 q0,-2.5 2,-2.5 q2,0 2,2" stroke="#000" stroke-width="0.9" fill="none" />
<path d="M54,323 v-6 q0,-2.5 -2,-2.5 q-2,0 -2,2" stroke="#000" stroke-width="0.9" fill="none" />
<path d="M228,312 v-6 q0,-2.5 -2,-2.5 q-2,0 -2,2" stroke="#000" stroke-width="0.9" fill="none" />
<path d="M223,306 v-6 q0,-2.5 -2,-2.5 q-2,0 -2,2" stroke="#000" stroke-width="0.9" fill="none" />
<path d="M218,301 v-6 q0,-2.5 -2,-2.5 q-2,0 -2,2" stroke="#000" stroke-width="0.9" fill="none" />
<path d="M230,318 v-6 q0,-2.5 2,-2.5 q2,0 2,2" stroke="#000" stroke-width="0.9" fill="none" />
<path d="M213,322 v-6 q0,-2.5 -2,-2.5 q-2,0 -2,2" stroke="#000" stroke-width="0.9" fill="none" />
<path d="M209,300 v-6 q0,-2.5 -2,-2.5 q-2,0 -2,2" stroke="#000" stroke-width="0.9" fill="none" />
<path d="M217,314 v-6 q0,-2.5 -2,-2.5 q-2,0 -2,2" stroke="#000" stroke-width="0.9" fill="none" />
<path d="M221,323 v-6 q0,-2.5 2,-2.5 q2,0 2,2" stroke="#000" stroke-width="0.9" fill="none" />
<path d="M43,308 v-6.6000000000000005 q0,-2.75 2.2,-2.75 q2.2,0 2.2,2.2" stroke="#000" stroke-width="1.1" fill="none" />
<path d="M41,315 v-6.6000000000000005 q0,-2.75 -2.2,-2.75 q-2.2,0 -2.2,2.2" stroke="#000" stroke-width="1.1" fill="none" />
<path d="M49,300 v-6.6000000000000005 q0,-2.75 2.2,-2.75 q2.2,0 2.2,2.2" stroke="#000" stroke-width="1.1" fill="none" />
<path d="M44,325 v-6.6000000000000005 q0,-2.75 2.2,-2.75 q2.2,0 2.2,2.2" stroke="#000" stroke-width="1.1" fill="none" />
<path d="M70,312 v-6.6000000000000005 q0,-2.75 2.2,-2.75 q2.2,0 2.2,2.2" stroke="#000" stroke-width="1.1" fill="none" />
<path d="M232,308 v-6.6000000000000005 q0,-2.75 -2.2,-2.75 q-2.2,0 -2.2,2.2" stroke="#000" stroke-width="1.1" fill="none" />
<path d="M234,315 v-6.6000000000000005 q0,-2.75 2.2,-2.75 q2.2,0 2.2,2.2" stroke="#000" stroke-width="1.1" fill="none" />
<path d="M226,300 v-6.6000000000000005 q0,-2.75 -2.2,-2.75 q-2.2,0 -2.2,2.2" stroke="#000" stroke-width="1.1" fill="none" />
<path d="M231,325 v-6.6000000000000005 q0,-2.75 -2.2,-2.75 q-2.2,0 -2.2,2.2" stroke="#000" stroke-width="1.1" fill="none" />
<path d="M205,312 v-6.6000000000000005 q0,-2.75 -2.2,-2.75 q-2.2,0 -2.2,2.2" stroke="#000" stroke-width="1.1" fill="none" />
<line x1="46" y1="312" x2="60" y2="303" stroke="#000" stroke-width="1.2" />
<line x1="47" y1="321" x2="60" y2="329" stroke="#000" stroke-width="1.2" />
<line x1="229" y1="312" x2="215" y2="303" stroke="#000" stroke-width="1.2" />
<line x1="228" y1="321" x2="215" y2="329" stroke="#000" stroke-width="1.2" />
<line x1="52" y1="316" x2="58" y2="312" stroke="#000" stroke-width="1.2" />
<line x1="223" y1="316" x2="217" y2="312" stroke="#000" stroke-width="1.2" />
<line x1="50" y1="304" x2="58" y2="298" stroke="#000" stroke-width="1.3" />
<line x1="225" y1="304" x2="217" y2="298" stroke="#000" stroke-width="1.3" />
<line x1="51" y1="309" x2="61" y2="302" stroke="#000" stroke-width="1.1" />
<line x1="224" y1="309" x2="214" y2="302" stroke="#000" stroke-width="1.1" />
<line x1="48" y1="322" x2="56" y2="331" stroke="#000" stroke-width="1.3" />
<line x1="227" y1="322" x2="219" y2="331" stroke="#000" stroke-width="1.3" />
<line x1="52" y1="326" x2="62" y2="333" stroke="#000" stroke-width="1.1" />
<line x1="223" y1="326" x2="213" y2="333" stroke="#000" stroke-width="1.1" />
<line x1="44" y1="306" x2="48" y2="316" stroke="#000" stroke-width="1.4" />
<line x1="231" y1="306" x2="227" y2="316" stroke="#000" stroke-width="1.4" />
<line x1="45" y1="318" x2="49" y2="327" stroke="#000" stroke-width="1.4" />
<line x1="230" y1="318" x2="226" y2="327" stroke="#000" stroke-width="1.4" />
<line x1="54" y1="312" x2="60" y2="316" stroke="#000" stroke-width="1.2" />
<line x1="221" y1="312" x2="215" y2="316" stroke="#000" stroke-width="1.2" />
<line x1="55" y1="305" x2="55" y2="313" stroke="#000" stroke-width="1.2" />
<line x1="220" y1="305" x2="220" y2="313" stroke="#000" stroke-width="1.2" />
<line x1="59" y1="320" x2="59" y2="328" stroke="#000" stroke-width="1.1" />
<line x1="216" y1="320" x2="216" y2="328" stroke="#000" stroke-width="1.1" />
<circle cx="47" cy="311" r="1.4" fill="#000"/>
<circle cx="228" cy="311" r="1.4" fill="#000"/>
<circle cx="53" cy="318" r="1.3" fill="#000"/>
<circle cx="222" cy="318" r="1.3" fill="#000"/>
<circle cx="57" cy="307" r="1.2" fill="#000"/>
<circle cx="218" cy="307" r="1.2" fill="#000"/>
<circle cx="46" cy="326" r="1.2" fill="#000"/>
<circle cx="229" cy="326" r="1.2" fill="#000"/>
<circle cx="62" cy="324" r="1.2" fill="#000"/>
<circle cx="213" cy="324" r="1.2" fill="#000"/>
<circle cx="48" cy="305" r="1.1" fill="#000"/>
<circle cx="53" cy="312" r="1.1" fill="#000"/>
<circle cx="58" cy="320" r="1.1" fill="#000"/>
<circle cx="46" cy="323" r="1.1" fill="#000"/>
<circle cx="227" cy="305" r="1.1" fill="#000"/>
<circle cx="222" cy="312" r="1.1" fill="#000"/>
<circle cx="217" cy="320" r="1.1" fill="#000"/>
<circle cx="229" cy="323" r="1.1" fill="#000"/>
<circle cx="61" cy="308" r="1.1" fill="#000"/>
<circle cx="214" cy="308" r="1.1" fill="#000"/>
<line x1="236" y1="308.8" x2="241.2" y2="308.8" stroke="#888" stroke-width="0.8" />
<line x1="241.2" y1="308.8" x2="248" y2="308.8" stroke="#000" stroke-width="1.7" />
<path d="M249.3,308.9 H252.3 V302.7" stroke="#000" stroke-width="1.2" fill="none" />
<path d="M259.6,303.3 Q257.2,301.8 257.4,304.5 V308.3 Q257.6,311.4 259.3,311 Q260.7,310.5 260.5,306.8" stroke="#000" stroke-width="1.15" fill="none" />
<path d="M280.7,126.5 H290.5 V390.5 H280.7" stroke="#858585" stroke-width="1" fill="none" />
<path d="M263,291.5 H272.5 V390.5 H262.4" stroke="#858585" stroke-width="1" fill="none" />
<path d="M33.5,399.2 V406.5 H239.5 V399.2" stroke="#858585" stroke-width="1" fill="none" />
<g transform="translate(120.9,406.7) scale(0.76,1)"><text x="0.00 6.64 13.29 19.93 26.05 31.89" y="0" font-family="&quot;Liberation Sans&quot;, sans-serif" font-size="10.4" fill="#111" stroke="#000" stroke-width="0.5">60.4CM</text></g>
<g transform="translate(272.3,351) rotate(-90) scale(0.76,1)"><text x="0.00 6.64 12.76 18.61" y="0" font-family="&quot;Liberation Sans&quot;, sans-serif" font-size="10.4" fill="#111" stroke="#000" stroke-width="0.5">18CM</text></g>
<g transform="translate(289.8,275.8) rotate(-90) scale(0.76,1)"><text x="0.00 6.51 13.03 19.54 26.05 32.04 37.78" y="0" font-family="&quot;Liberation Sans&quot;, sans-serif" font-size="10.4" fill="#111" stroke="#000" stroke-width="0.5">120.5CM</text></g>
<line x1="412.2" y1="56.5" x2="396.8" y2="186" stroke="#000" stroke-width="1.1" />
<line x1="432.3" y1="55" x2="485.7" y2="205.7" stroke="#000" stroke-width="1.1" />
<path d="M416.9,55.1 L416.9,55.8 L417.0,56.8 L417.2,57.8 L417.3,59.1 L417.5,60.4 L417.6,61.8 L417.8,63.2 L418.0,64.7 L418.2,66.1 L418.3,67.5 L418.5,68.9 L418.7,70.1 L418.8,71.3 L418.9,72.4 L419.1,73.5 L419.2,74.5 L419.3,75.6 L419.5,76.7 L419.6,77.7 L419.8,78.8 L419.9,79.9 L420.2,81.1 L420.4,82.3 L420.7,83.5 L421.0,84.8 L421.3,86.1 L421.6,87.4 L421.9,88.8 L422.3,90.2 L422.7,91.7 L423.1,93.1 L423.6,94.5 L424.0,96.0 L424.6,97.4 L425.1,98.9 L425.7,100.3 L426.4,101.7 L427.1,103.1 L427.8,104.6 L428.6,106.1 L429.4,107.5 L430.2,109.0 L431.1,110.4 L432.0,111.8 L432.9,113.2 L433.8,114.6 L434.8,115.9 L435.8,117.1 L436.8,118.3 L437.9,119.5 L439.0,120.6 L440.2,121.7 L441.4,122.7 L442.6,123.7 L443.8,124.7 L444.9,125.6 L446.1,126.5 L447.2,127.4 L448.2,128.2 L449.2,128.9 L450.1,129.7 L451.0,130.3 L451.8,130.9 L452.6,131.4 L453.4,131.9 L454.1,132.3 L454.8,132.8 L455.5,133.2 L456.2,133.7 L456.9,134.2 L457.7,134.8 L458.5,135.5 L459.3,136.3 L460.2,137.1 L461.1,137.9 L462.0,138.8 L462.9,139.7 L463.8,140.6 L464.7,141.6 L465.6,142.6 L466.5,143.6 L467.4,144.7 L468.2,145.8 L469.0,146.9 L469.8,148.1 L470.5,149.3 L471.3,150.6 L472.0,151.9 L472.8,153.3 L473.5,154.7 L474.1,156.1 L474.8,157.5 L475.4,159.0 L476.1,160.4 L476.6,161.9 L477.2,163.4 L477.7,165.0 L478.2,166.5 L478.7,168.2 L479.2,169.9 L479.6,171.6 L480.0,173.3 L480.4,175.0 L480.8,176.7 L481.2,178.4 L481.5,180.0 L481.8,181.6 L482.2,183.2 L482.5,184.7 L482.8,186.3 L483.0,187.8 L483.3,189.4 L483.6,190.9 L483.8,192.4 L484.0,193.9 L484.2,195.3 L484.4,196.6 L484.6,197.8 L484.7,198.9 L484.9,199.8 L485.0,200.7 L485.1,201.4 L485.2,202.0 L485.2,202.5 L485.3,202.9 L485.3,203.3 L485.4,203.6 L485.4,203.8 L485.4,204.1 L485.4,204.3 L485.4,204.5 L485.5,204.7" stroke="#000" stroke-width="0.8" fill="none" stroke-linejoin="round"/>
<path d="M418.7,54.9 L418.8,55.6 L418.9,56.5 L419.1,57.6 L419.2,58.8 L419.4,60.2 L419.5,61.6 L419.7,63.0 L419.9,64.5 L420.0,65.9 L420.2,67.3 L420.4,68.6 L420.5,69.9 L420.7,71.0 L420.8,72.2 L421.0,73.3 L421.1,74.3 L421.2,75.4 L421.3,76.4 L421.5,77.5 L421.6,78.5 L421.8,79.6 L422.0,80.7 L422.3,81.9 L422.5,83.1 L422.8,84.4 L423.1,85.7 L423.4,87.0 L423.8,88.4 L424.1,89.7 L424.5,91.1 L424.9,92.5 L425.4,94.0 L425.8,95.4 L426.3,96.8 L426.9,98.1 L427.5,99.5 L428.1,100.9 L428.8,102.3 L429.5,103.7 L430.2,105.2 L431.0,106.6 L431.9,108.0 L432.7,109.4 L433.6,110.8 L434.5,112.2 L435.4,113.5 L436.3,114.7 L437.2,115.9 L438.2,117.0 L439.2,118.1 L440.3,119.2 L441.5,120.2 L442.6,121.3 L443.8,122.2 L445.0,123.2 L446.1,124.1 L447.3,125.0 L448.4,125.9 L449.4,126.7 L450.4,127.5 L451.3,128.2 L452.1,128.8 L452.9,129.3 L453.7,129.8 L454.4,130.3 L455.1,130.7 L455.8,131.2 L456.6,131.6 L457.3,132.1 L458.1,132.7 L458.9,133.4 L459.7,134.1 L460.6,134.9 L461.5,135.7 L462.4,136.5 L463.3,137.4 L464.3,138.3 L465.2,139.3 L466.1,140.3 L467.1,141.3 L468.0,142.4 L468.9,143.5 L469.8,144.7 L470.6,145.9 L471.4,147.1 L472.2,148.4 L472.9,149.7 L473.7,151.0 L474.4,152.4 L475.2,153.8 L475.9,155.3 L476.5,156.7 L477.2,158.2 L477.8,159.7 L478.4,161.2 L479.0,162.8 L479.5,164.4 L480.1,166.0 L480.6,167.7 L481.0,169.4 L481.5,171.1 L481.9,172.8 L482.3,174.6 L482.7,176.3 L483.0,178.0 L483.4,179.6 L483.7,181.2 L484.0,182.8 L484.3,184.4 L484.6,185.9 L484.9,187.5 L485.2,189.1 L485.4,190.6 L485.7,192.1 L485.9,193.6 L486.1,195.0 L486.3,196.3 L486.4,197.5 L486.6,198.6 L486.7,199.6 L486.9,200.4 L487.0,201.1 L487.1,201.7 L487.1,202.3 L487.2,202.7 L487.2,203.1 L487.2,203.4 L487.3,203.7 L487.3,203.9 L487.3,204.1 L487.3,204.3 L487.3,204.5" stroke="#000" stroke-width="0.8" fill="none" stroke-linejoin="round"/>
<circle cx="459.1" cy="134.8" r="1.4" fill="#000"/>
<path d="M372.3,199 H389.6 Q391.6,199 391.6,201 V205.5 Q391.6,207.5 389.6,207.5 H372.3 Q370.3,207.5 370.3,205.5 V201 Q370.3,199 372.3,199Z" stroke="#000" stroke-width="0.7" fill="#fff" />
<ellipse cx="389.40000000000003" cy="203.25" rx="2" ry="4.25" stroke="#000" stroke-width="0.6" fill="none" />
<path d="M427,197.5 H443.2 Q445.2,197.5 445.2,199.5 V205.1 Q445.2,207.1 443.2,207.1 H427 Q425,207.1 425,205.1 V199.5 Q425,197.5 427,197.5Z" stroke="#000" stroke-width="0.7" fill="#fff" />
<ellipse cx="443.0" cy="202.3" rx="2" ry="4.8" stroke="#000" stroke-width="0.6" fill="none" />
<path d="M387.7,241.4 H403.7 Q405.7,241.4 405.7,243.4 V248.0 Q405.7,250.0 403.7,250.0 H387.7 Q385.7,250.0 385.7,248.0 V243.4 Q385.7,241.4 387.7,241.4Z" stroke="#000" stroke-width="0.7" fill="#fff" />
<ellipse cx="403.5" cy="245.70000000000002" rx="2" ry="4.3" stroke="#000" stroke-width="0.6" fill="none" />
<path d="M440.6,240.9 H458.0 Q460.0,240.9 460.0,242.9 V246.6 Q460.0,248.6 458.0,248.6 H440.6 Q438.6,248.6 438.6,246.6 V242.9 Q438.6,240.9 440.6,240.9Z" stroke="#000" stroke-width="0.7" fill="#fff" />
<ellipse cx="457.8" cy="244.75" rx="2" ry="3.85" stroke="#000" stroke-width="0.6" fill="none" />
<path d="M349,230 H358 Q360,230 360,232 V236.6 Q360,238.6 358,238.6 H349 Q347,238.6 347,236.6 V232 Q347,230 349,230Z" stroke="#000" stroke-width="0.7" fill="#fff" />
<ellipse cx="357.8" cy="234.3" rx="2" ry="4.3" stroke="#000" stroke-width="0.6" fill="none" />
<path d="M478,228.4 H486.4 Q488.4,228.4 488.4,230.4 V235.0 Q488.4,237.0 486.4,237.0 H478 Q476,237.0 476,235.0 V230.4 Q476,228.4 478,228.4Z" stroke="#000" stroke-width="0.7" fill="#fff" />
<ellipse cx="486.2" cy="232.70000000000002" rx="2" ry="4.3" stroke="#000" stroke-width="0.6" fill="none" />
<path d="M338.4,214 A78,25.2 0 0 0 494.4,214 v2.3 A78,25.2 0 0 1 338.4,216.3Z" stroke="#000" stroke-width="0" fill="#fff" />
<path d="M338.4,214 A78,25.2 0 0 0 494.4,214 L481.9,214 A65.5,20.4 0 0 1 350.9,214Z" stroke="#000" stroke-width="0" fill="#fff" />
<ellipse cx="416.4" cy="214" rx="78" ry="25.2" stroke="#000" stroke-width="0.85" fill="none" />
<ellipse cx="416.4" cy="214" rx="75.5" ry="23.2" stroke="#000" stroke-width="0.7" fill="none" />
<ellipse cx="416.4" cy="214" rx="65.5" ry="20.4" stroke="#000" stroke-width="0.85" fill="none" />
<path d="M350.9,216.3 A65.5,20.4 0 0 1 481.9,216.3" stroke="#000" stroke-width="0.7" fill="none" />
<path d="M338.4,216.3 A78,25.2 0 0 0 494.4,216.3" stroke="#000" stroke-width="0.85" fill="none" />
<path d="M491.6,218.4 v-6.8 q0,-2.6 1.9,-2.6 q1.9,0 1.7,2.4" stroke="#000" stroke-width="1.05" fill="none" />
<path d="M474.6,229.7 v-6.8 q0,-2.6 1.9,-2.6 q1.9,0 1.7,2.4" stroke="#000" stroke-width="1.05" fill="none" />
<path d="M441.9,236.8 v-6.8 q0,-2.6 1.9,-2.6 q1.9,0 1.7,2.4" stroke="#000" stroke-width="1.05" fill="none" />
<path d="M402.5,237.8 v-6.8 q0,-2.6 1.9,-2.6 q1.9,0 1.7,2.4" stroke="#000" stroke-width="1.05" fill="none" />
<path d="M366.7,232.4 v-6.8 q0,-2.6 -1.9,-2.6 q-1.9,0 -1.7,2.4" stroke="#000" stroke-width="1.05" fill="none" />
<path d="M344.3,222.1 v-6.8 q0,-2.6 -1.9,-2.6 q-1.9,0 -1.7,2.4" stroke="#000" stroke-width="1.05" fill="none" />
<path d="M341.2,209.6 v-6.8 q0,-2.6 -1.9,-2.6 q-1.9,0 -1.7,2.4" stroke="#000" stroke-width="1.05" fill="none" />
<path d="M358.2,198.3 v-6.8 q0,-2.6 -1.9,-2.6 q-1.9,0 -1.7,2.4" stroke="#000" stroke-width="1.05" fill="none" />
<path d="M390.9,191.2 v-6.8 q0,-2.6 -1.9,-2.6 q-1.9,0 -1.7,2.4" stroke="#000" stroke-width="1.05" fill="none" />
<path d="M430.3,190.2 v-6.8 q0,-2.6 1.9,-2.6 q1.9,0 1.7,2.4" stroke="#000" stroke-width="1.05" fill="none" />
<path d="M466.1,195.6 v-6.8 q0,-2.6 1.9,-2.6 q1.9,0 1.7,2.4" stroke="#000" stroke-width="1.05" fill="none" />
<path d="M488.5,205.9 v-6.8 q0,-2.6 1.9,-2.6 q1.9,0 1.7,2.4" stroke="#000" stroke-width="1.05" fill="none" />
<path d="M476.1,223.6 v-5.6 q0,-2.2 1.5,-2.2 q1.5,0 1.4,2.0" stroke="#000" stroke-width="1.05" fill="none" />
<path d="M452.9,231.8 v-5.6 q0,-2.2 1.5,-2.2 q1.5,0 1.4,2.0" stroke="#000" stroke-width="1.05" fill="none" />
<path d="M419.9,235.2 v-5.6 q0,-2.2 1.5,-2.2 q1.5,0 1.4,2.0" stroke="#000" stroke-width="1.05" fill="none" />
<path d="M386.0,232.9 v-5.6 q0,-2.2 -1.5,-2.2 q-1.5,0 -1.4,2.0" stroke="#000" stroke-width="1.05" fill="none" />
<path d="M360.2,225.5 v-5.6 q0,-2.2 -1.5,-2.2 q-1.5,0 -1.4,2.0" stroke="#000" stroke-width="1.05" fill="none" />
<path d="M349.5,215.1 v-5.6 q0,-2.2 -1.5,-2.2 q-1.5,0 -1.4,2.0" stroke="#000" stroke-width="1.05" fill="none" />
<path d="M356.7,204.4 v-5.6 q0,-2.2 -1.5,-2.2 q-1.5,0 -1.4,2.0" stroke="#000" stroke-width="1.05" fill="none" />
<path d="M379.9,196.2 v-5.6 q0,-2.2 -1.5,-2.2 q-1.5,0 -1.4,2.0" stroke="#000" stroke-width="1.05" fill="none" />
<path d="M412.9,192.8 v-5.6 q0,-2.2 1.5,-2.2 q1.5,0 1.4,2.0" stroke="#000" stroke-width="1.05" fill="none" />
<path d="M446.8,195.1 v-5.6 q0,-2.2 1.5,-2.2 q1.5,0 1.4,2.0" stroke="#000" stroke-width="1.05" fill="none" />
<path d="M472.6,202.5 v-5.6 q0,-2.2 1.5,-2.2 q1.5,0 1.4,2.0" stroke="#000" stroke-width="1.05" fill="none" />
<path d="M483.3,212.9 v-5.6 q0,-2.2 1.5,-2.2 q1.5,0 1.4,2.0" stroke="#000" stroke-width="1.05" fill="none" />
<path d="M338.5,213.0 v-7.4 q0,-2.9 -2.0,-2.9 q-2.0,0 -1.8,2.6" stroke="#000" stroke-width="1.2" fill="none" />
<path d="M342.0,206.0 v-7.4 q0,-2.9 -2.0,-2.9 q-2.0,0 -1.8,2.6" stroke="#000" stroke-width="1.2" fill="none" />
<path d="M339.5,221.0 v-7.4 q0,-2.9 -2.0,-2.9 q-2.0,0 -1.8,2.6" stroke="#000" stroke-width="1.2" fill="none" />
<path d="M346.0,201.0 v-7.4 q0,-2.9 2.0,-2.9 q2.0,0 1.8,2.6" stroke="#000" stroke-width="1.2" fill="none" />
<path d="M352.0,214.0 v-7.4 q0,-2.9 2.0,-2.9 q2.0,0 1.8,2.6" stroke="#000" stroke-width="1.2" fill="none" />
<path d="M494.0,212.0 v-7.4 q0,-2.9 2.0,-2.9 q2.0,0 1.8,2.6" stroke="#000" stroke-width="1.2" fill="none" />
<path d="M490.5,205.0 v-7.4 q0,-2.9 2.0,-2.9 q2.0,0 1.8,2.6" stroke="#000" stroke-width="1.2" fill="none" />
<path d="M493.0,220.0 v-7.4 q0,-2.9 2.0,-2.9 q2.0,0 1.8,2.6" stroke="#000" stroke-width="1.2" fill="none" />
<path d="M486.0,200.0 v-7.4 q0,-2.9 -2.0,-2.9 q-2.0,0 -1.8,2.6" stroke="#000" stroke-width="1.2" fill="none" />
<path d="M481.0,213.0 v-7.4 q0,-2.9 -2.0,-2.9 q-2.0,0 -1.8,2.6" stroke="#000" stroke-width="1.2" fill="none" />
<rect x="417.5" y="178" width="1.6" height="10" stroke="#000" stroke-width="0.6" fill="none" />
<line x1="402.7" y1="54.4" x2="349.6" y2="211.4" stroke="#000" stroke-width="1.1" />
<line x1="420.9" y1="56.5" x2="433.3" y2="238.4" stroke="#000" stroke-width="1.1" />
<path d="M397.70000000000005,43.4 V49.6 A19.4,6.3 0 0 0 436.5,49.6 V43.4" stroke="#000" stroke-width="0.9" fill="#fff" />
<ellipse cx="417.1" cy="43.4" rx="19.4" ry="6.3" stroke="#000" stroke-width="0.9" fill="#fff" />
<path d="M398.4054545454546,45.07545454545454 Q417.1,39.343636363636364 435.9709090909091,45.42818181818182" stroke="#000" stroke-width="0.7" fill="none" />
<path d="M402.28545454545457,45.516363636363636 Q417.1,53.629090909090905 432.5318181818182,46.04545454545455" stroke="#000" stroke-width="0.7" fill="none" />
<ellipse cx="406.3418181818182" cy="46.04545454545455" rx="1.410909090909091" ry="0.7054545454545454" fill="#000"/>
<ellipse cx="431.65000000000003" cy="46.22181818181818" rx="1.3227272727272725" ry="0.7054545454545454" fill="#000"/>
<path d="M412.25,44.987272727272725 v-1.94 q1.410909090909091,-1.410909090909091 2.821818181818182,0 v1.94" stroke="#000" stroke-width="0.7" fill="none" />
<circle cx="423.1" cy="264" r="4.4" stroke="#222" stroke-width="0.65" fill="none"/>
<text x="423.1" y="266.448" font-family="&quot;Liberation Sans&quot;, sans-serif" font-size="6.8" font-weight="normal" text-anchor="middle" fill="#111" stroke="#111" stroke-width="0.1">1</text>
<path d="M548.6,173.1 C552.8,173.5 559.1,185.3 559.1,197.6 C559.1,212.2 551.8,221.6 548.6,222.0 C545.5,221.6 538.1,212.2 538.1,197.6 C538.1,185.3 544.4,173.5 548.6,173.1Z" stroke="#000" stroke-width="0.9" fill="#fff" />
<circle cx="548.6" cy="177.9" r="0.9" fill="#000"/>
<path d="M596.4,149.8 C601.5,150.4 609.0,165.7 609.0,183.7 C609.0,205.4 600.2,221.4 596.4,222.0 C592.6,221.4 583.8,205.4 583.8,183.7 C583.8,165.7 591.3,150.4 596.4,149.8Z" stroke="#000" stroke-width="0.9" fill="#fff" />
<circle cx="596.4" cy="156.8" r="0.9" fill="#000"/>
<circle cx="548.9" cy="239.7" r="4.4" stroke="#222" stroke-width="0.65" fill="none"/>
<text x="548.9" y="242.148" font-family="&quot;Liberation Sans&quot;, sans-serif" font-size="6.8" font-weight="normal" text-anchor="middle" fill="#111" textLength="5.9" lengthAdjust="spacingAndGlyphs" stroke="#111" stroke-width="0.15">20</text>
<circle cx="598.6" cy="239.7" r="4.4" stroke="#222" stroke-width="0.65" fill="none"/>
<text x="598.6" y="242.148" font-family="&quot;Liberation Sans&quot;, sans-serif" font-size="6.8" font-weight="normal" text-anchor="middle" fill="#111" textLength="5.9" lengthAdjust="spacingAndGlyphs" stroke="#111" stroke-width="0.15">20</text>
<circle cx="646.9" cy="237.7" r="4.4" stroke="#222" stroke-width="0.65" fill="none"/>
<text x="646.9" y="240.148" font-family="&quot;Liberation Sans&quot;, sans-serif" font-size="6.8" font-weight="normal" text-anchor="middle" fill="#111" textLength="5.9" lengthAdjust="spacingAndGlyphs" stroke="#111" stroke-width="0.15">42</text>
<circle cx="676.4" cy="237.7" r="4.4" stroke="#222" stroke-width="0.65" fill="none"/>
<text x="676.4" y="240.148" font-family="&quot;Liberation Sans&quot;, sans-serif" font-size="6.8" font-weight="normal" text-anchor="middle" fill="#111" stroke="#111" stroke-width="0.1">2</text>
<text x="541" y="260.7" font-family="&quot;Liberation Mono&quot;, monospace" font-size="7.6" font-weight="normal" text-anchor="start" fill="#333" textLength="40.2" lengthAdjust="spacingAndGlyphs" >PM:62*62*9</text>
<text x="598" y="260.7" font-family="&quot;Liberation Mono&quot;, monospace" font-size="7.6" font-weight="normal" text-anchor="start" fill="#333" textLength="15.2" lengthAdjust="spacingAndGlyphs" >1pcs</text>
<path d="M644.2,213 H646.8 V215 H646.3 V222 H644.7 V215 H644.2Z" stroke="#000" stroke-width="0.3" fill="#000" />
<path d="M675.3,222 V213.4 H678.5" stroke="#333" stroke-width="1.1" fill="none" />
</g>
</svg>
</body></html>
